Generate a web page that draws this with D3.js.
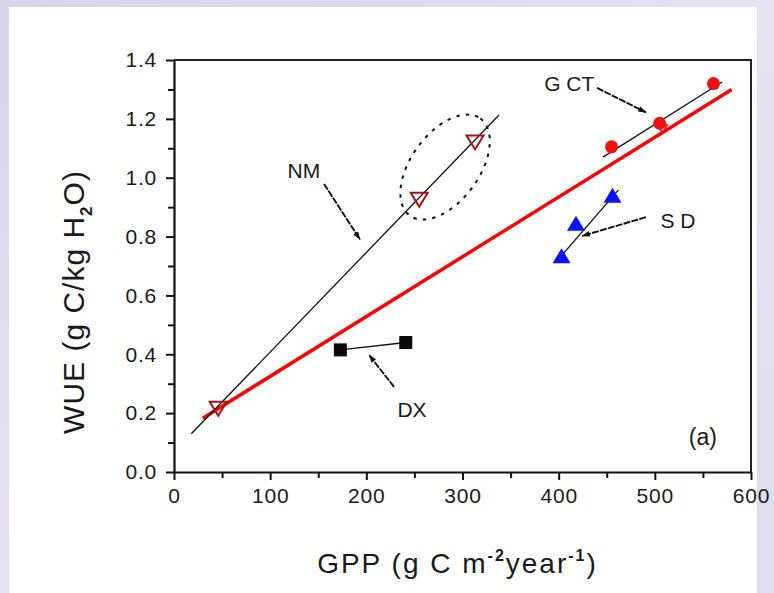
<!DOCTYPE html>
<html>
<head>
<meta charset="utf-8">
<script src="https://cdn.jsdelivr.net/npm/d3@7"></script>
<style>
  body { margin: 0; background: #dcd9ee; }
  svg { display: block; }
  text { font-family: "Liberation Sans", Arial, sans-serif; fill: #1a1a1a; }
</style>
</head>
<body>
<script>
// Sites (GPP, WUE)
const nmPoints  = [[46, 0.215], [255, 0.925], [313, 1.12]];
const gctPoints = [[455, 1.105], [505, 1.185], [561, 1.32]];
const gctExtra  = [[508, 1.165]];
const sdPoints  = [[403, 0.735], [418, 0.845], [456, 0.94]];
const dxPoints  = [[173, 0.415], [241, 0.44]];

// Fitted lines (end points)
const nmFit  = [[18, 0.13], [338, 1.213]];
const gctFit = [[446, 1.07], [570, 1.325]];
const sdFit  = [[399, 0.72], [462, 0.958]];
const allFit = [[30, 0.183], [580, 1.30]];

// Tick values
const xTicks = [0, 100, 200, 300, 400, 500, 600];
const xMinor = [50, 150, 250, 350, 450, 550];
const yTicks = [0, 0.2, 0.4, 0.6, 0.8, 1.0, 1.2, 1.4];
const yMinor = [0.1, 0.3, 0.5, 0.7, 0.9, 1.1, 1.3];

// Labels and arrows (in data units)
const labels = [
  { text: "NM",   x: 135,   y: 1.026 },
  { text: "G CT", x: 411,   y: 1.322 },
  { text: "S D",  x: 524,   y: 0.856 },
  { text: "DX",   x: 247.5, y: 0.214 },
  { text: "(a)",  x: 550,   y: 0.119 }
];
const arrows = [
  [[156, 0.979], [193.4, 0.79]],
  [[440, 1.305], [490.8, 1.222]],
  [[490.8, 0.866], [424.3, 0.802]],
  [[228.8, 0.289], [202.8, 0.398]]
];

const W = 774, H = 593;
const margin = {top: 60, right: 23, bottom: 121, left: 174},
      width = W - margin.left - margin.right,
      height = H - margin.top - margin.bottom;

const svg = d3.select("body").append("svg")
    .attr("width", W)
    .attr("height", H);

// slide background + white panel
const defs = svg.append("defs");
const grad = defs.append("linearGradient").attr("id", "bg")
    .attr("x1", 0).attr("y1", 0).attr("x2", 1).attr("y2", 1);
grad.append("stop").attr("offset", 0).attr("stop-color", "#d6d3ec");
grad.append("stop").attr("offset", 0.5).attr("stop-color", "#e6e2f1");
grad.append("stop").attr("offset", 1).attr("stop-color", "#dedbee");
svg.append("rect").attr("width", W).attr("height", H).attr("fill", "url(#bg)");
svg.append("rect").attr("x", 9).attr("y", 7).attr("width", 748).attr("height", H - 7)
    .attr("fill", "#fff");

defs.append("marker").attr("id", "head")
    .attr("viewBox", "0 0 12 10").attr("refX", 11).attr("refY", 5)
    .attr("markerWidth", 12).attr("markerHeight", 7)
    .attr("markerUnits", "userSpaceOnUse")
    .attr("orient", "auto")
  .append("path").attr("d", "M0,1 L12,5 L0,9 Z").attr("fill", "#111");

const g = svg.append("g")
    .attr("transform", `translate(${margin.left},${margin.top})`);

const x = d3.scaleLinear().domain([0, 600]).range([0, width]);
const y = d3.scaleLinear().domain([0, 1.4]).range([height, 0]);

// frame (top + right)
g.append("path")
    .attr("d", `M0,0 H${width} V${height}`)
    .attr("fill", "none").attr("stroke", "#222").attr("stroke-width", 2);

// axes
const xAxis = g.append("g").attr("transform", `translate(0,${height})`)
    .call(d3.axisBottom(x).tickValues(xTicks).tickSize(8).tickSizeOuter(0).tickPadding(8)
      .tickFormat(d3.format("d")));
const xAxisMinor = g.append("g").attr("transform", `translate(0,${height})`)
    .call(d3.axisBottom(x).tickValues(xMinor).tickSize(6).tickFormat(""));
const yAxis = g.append("g")
    .call(d3.axisLeft(y).tickValues(yTicks).tickSize(8).tickSizeOuter(0).tickPadding(9)
      .tickFormat(d3.format(".1f")));
const yAxisMinor = g.append("g")
    .call(d3.axisLeft(y).tickValues(yMinor).tickSize(6).tickFormat(""));

[xAxis, xAxisMinor, yAxis, yAxisMinor].forEach(a => {
  a.select(".domain").attr("stroke", "#111").attr("stroke-width", 2.2);
  a.selectAll(".tick line").attr("stroke", "#111").attr("stroke-width", 2);
  a.selectAll("text").attr("font-size", 21).attr("fill", "#1a1a1a")
    .attr("font-family", "Liberation Sans, Arial, sans-serif")
    .attr("letter-spacing", 0.8);
});
xAxisMinor.select(".domain").remove();
yAxisMinor.select(".domain").remove();

// axis titles
const xt = svg.append("text")
    .attr("x", margin.left + width / 2 - 5).attr("y", 573)
    .attr("text-anchor", "middle").attr("font-size", 28)
    .attr("letter-spacing", 2);
xt.append("tspan").text("GPP (g C m");
xt.append("tspan").attr("dy", -12).attr("font-size", 16).attr("font-weight", "bold").text("-2");
xt.append("tspan").attr("dy", 12).text("year");
xt.append("tspan").attr("dy", -12).attr("font-size", 16).attr("font-weight", "bold").text("-1");
xt.append("tspan").attr("dy", 12).text(")");

const yt = svg.append("text")
    .attr("transform", `translate(84,${302}) rotate(-90)`)
    .attr("text-anchor", "middle").attr("font-size", 30)
    .attr("letter-spacing", 1);
yt.append("tspan").text("WUE (g C/kg H");
yt.append("tspan").attr("dy", 8).attr("font-size", 17).attr("font-weight", "bold").text("2");
yt.append("tspan").attr("dy", -8).text("O)");

const line = d3.line().x(d => x(d[0])).y(d => y(d[1]));

// fitted lines
g.append("path").datum(allFit).attr("d", line)
    .attr("stroke", "#ff0000").attr("stroke-width", 3.5).attr("fill", "none");
[nmFit, gctFit, sdFit, dxPoints].forEach(f => {
  g.append("path").datum(f).attr("d", line)
    .attr("stroke", "#111").attr("stroke-width", 1.3).attr("fill", "none");
});

// dashed ellipse around the two NM points
const ec = [x((nmPoints[1][0] + nmPoints[2][0]) / 2) - 2, y((nmPoints[1][1] + nmPoints[2][1]) / 2) - 4];
g.append("ellipse")
    .attr("transform", `translate(${ec[0]},${ec[1]}) rotate(-54)`)
    .attr("rx", 60).attr("ry", 34)
    .attr("fill", "none").attr("stroke", "#111").attr("stroke-width", 2)
    .attr("stroke-dasharray", "3.5,6");

// markers
const invTri = (w, h) => `M${-w/2},${-h/2} L${w/2},${-h/2} L0,${h/2} Z`;
const upTri = (w, h) => `M${-w/2},${h/2} L${w/2},${h/2} L0,${-h/2} Z`;

g.selectAll("path.nm").data(nmPoints).enter().append("path")
    .attr("class", "nm")
    .attr("transform", d => `translate(${x(d[0])},${y(d[1])})`)
    .attr("d", invTri(17, 14))
    .attr("fill", "none").attr("stroke", "#a31515").attr("stroke-width", 2);

g.selectAll("path.gx").data(gctExtra).enter().append("path")
    .attr("class", "gx")
    .attr("transform", d => `translate(${x(d[0])},${y(d[1])})`)
    .attr("d", invTri(9, 8))
    .attr("fill", "none").attr("stroke", "#ff1010").attr("stroke-width", 1.8);

g.selectAll("circle.gct").data(gctPoints).enter().append("circle")
    .attr("class", "gct")
    .attr("cx", d => x(d[0])).attr("cy", d => y(d[1])).attr("r", 6.5)
    .attr("fill", "#f01010");

g.selectAll("path.sd").data(sdPoints).enter().append("path")
    .attr("class", "sd")
    .attr("transform", d => `translate(${x(d[0])},${y(d[1])})`)
    .attr("d", upTri(18, 15))
    .attr("fill", "#0a14f0");

g.selectAll("rect.dx").data(dxPoints).enter().append("rect")
    .attr("class", "dx")
    .attr("x", d => x(d[0]) - 6.5).attr("y", d => y(d[1]) - 6.5)
    .attr("width", 13).attr("height", 13)
    .attr("fill", "#0a0a0a");

// annotation arrows
g.selectAll("line.arrow").data(arrows).enter().append("line")
    .attr("class", "arrow")
    .attr("x1", d => x(d[0][0])).attr("y1", d => y(d[0][1]))
    .attr("x2", d => x(d[1][0])).attr("y2", d => y(d[1][1]))
    .attr("stroke", "#111").attr("stroke-width", 1.9)
    .attr("stroke-dasharray", "7,1.2")
    .attr("marker-end", "url(#head)");

// annotation labels
g.selectAll("text.lab").data(labels).enter().append("text")
    .attr("class", "lab")
    .attr("x", d => x(d.x)).attr("y", d => y(d.y))
    .attr("dy", "0.36em")
    .attr("text-anchor", "middle")
    .attr("font-size", d => d.text === "(a)" ? 23 : 21)
    .text(d => d.text);
</script>
</body>
</html>
